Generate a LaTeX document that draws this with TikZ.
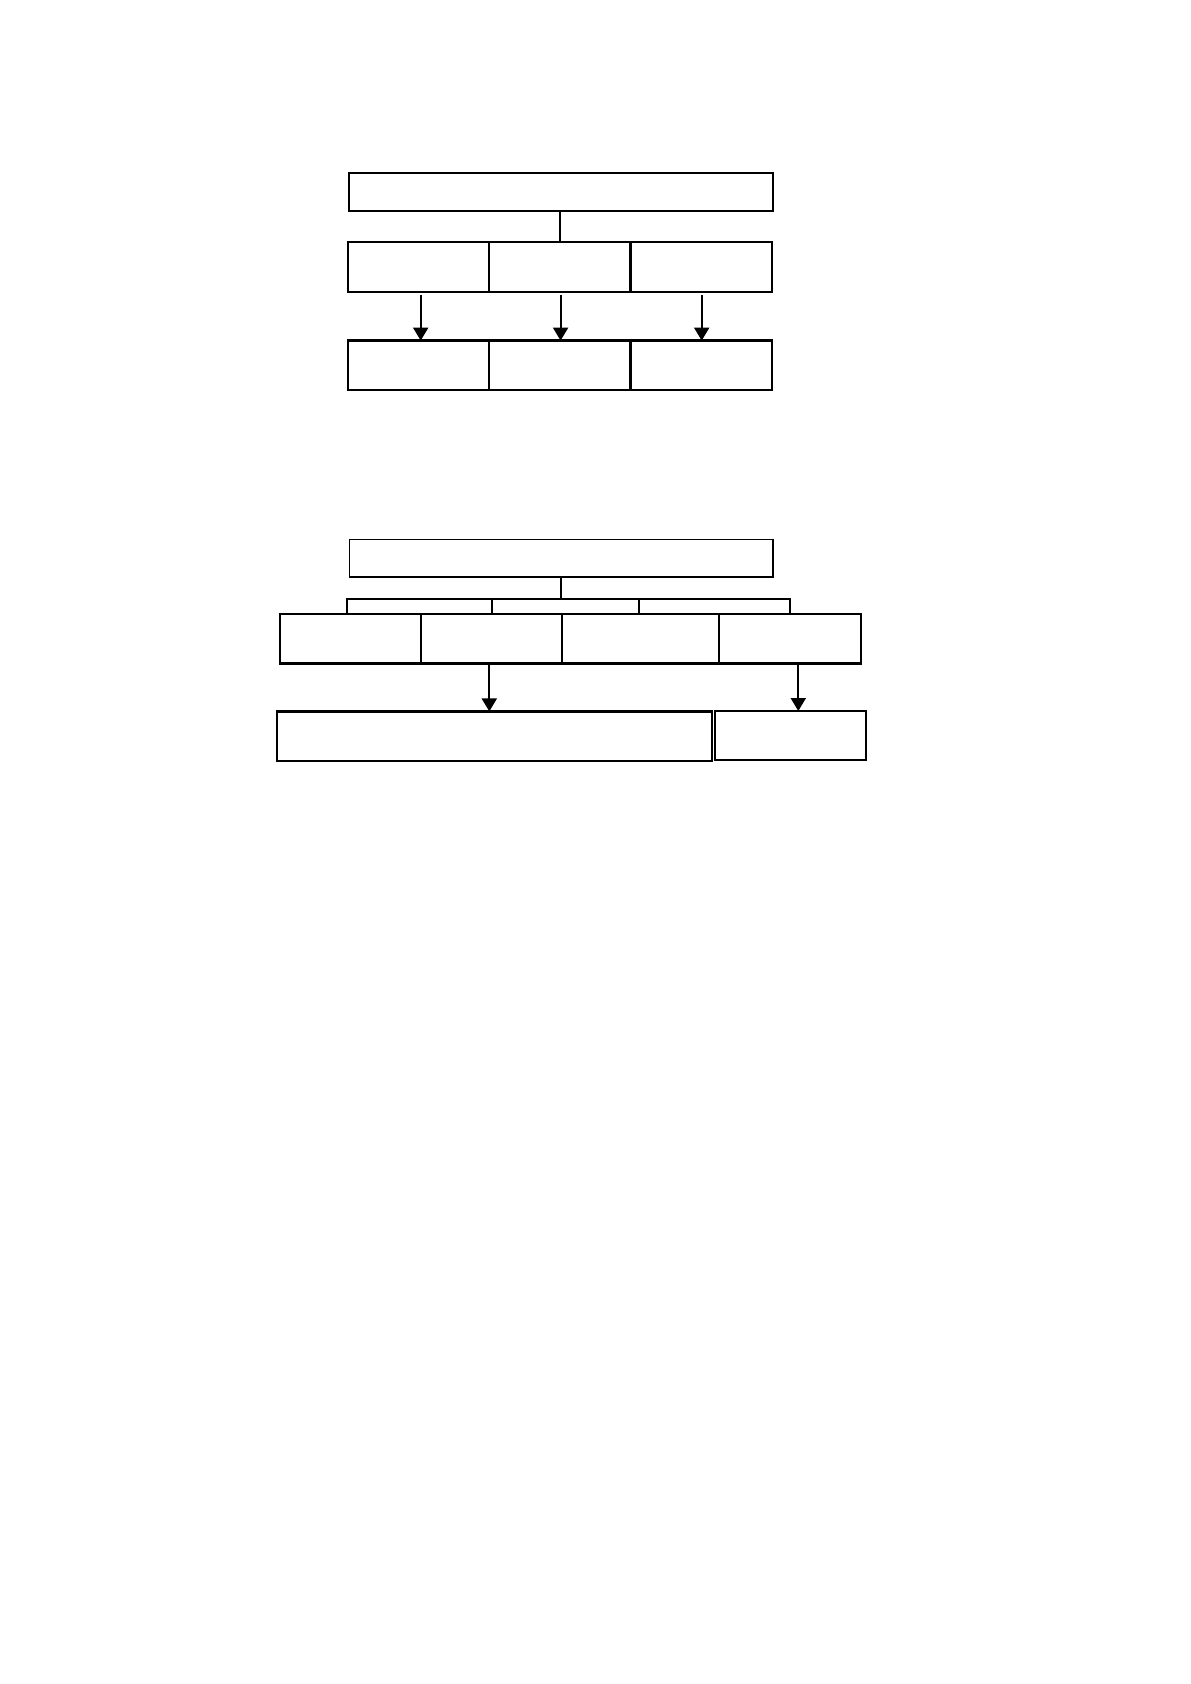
\documentclass[tikz,border=0pt]{standalone}
\usetikzlibrary{arrows.meta}
\begin{document}
\begin{tikzpicture}[x=0.5pt,y=-0.5pt,
  box/.style={draw=black,line width=1.1pt,rectangle,inner sep=0pt,outer sep=0pt,fill=white},
  thin/.style={draw=black,line width=0.8pt,rectangle,inner sep=0pt,outer sep=0pt,fill=white},
  conn/.style={draw=black,line width=1pt},
  arr/.style={draw=black,line width=1pt,-{Triangle[width=7.5pt,length=6.5pt]}}]
\useasboundingbox (0,0) rectangle (1190,1684);
% ---------- top diagram ----------
\node[thin,minimum width=212pt,minimum height=19pt] (t0) at (561,192) {};
\node[box,minimum width=70.7pt,minimum height=24.8pt] (t1) at (418.7,267.2) {};
\node[box,minimum width=70.7pt,minimum height=24.8pt] (t2) at (560,267.2) {};
\node[box,minimum width=70.7pt,minimum height=24.8pt] (t3) at (701.1,267.2) {};
\node[box,minimum width=70.7pt,minimum height=24.8pt] (u1) at (418.7,365.4) {};
\node[box,minimum width=70.7pt,minimum height=24.8pt] (u2) at (560,365.4) {};
\node[box,minimum width=70.7pt,minimum height=24.8pt] (u3) at (701.1,365.4) {};
\draw[conn] (t0.south -| t2.north) -- (t2.north);
\draw[arr] ([xshift=1pt,yshift=-1.5pt]t1.south) -- ([xshift=1pt]u1.north);
\draw[arr] ([xshift=0.3pt,yshift=-1.5pt]t2.south) -- ([xshift=0.3pt]u2.north);
\draw[arr] ([xshift=0.3pt,yshift=-1.5pt]t3.south) -- ([xshift=0.3pt]u3.north);
% ---------- bottom diagram ----------
\node[thin,minimum width=211.7pt,minimum height=18.8pt] (b0) at (561.2,558.2) {};
\node[box,minimum width=70.4pt,minimum height=24.6pt] (b1) at (350.3,638.9) {};
\node[box,minimum width=70.6pt,minimum height=24.6pt] (b2) at (491.3,638.9) {};
\node[box,minimum width=78.7pt,minimum height=24.6pt] (b3) at (640.6,638.9) {};
\node[box,minimum width=71pt,minimum height=24.6pt] (b4) at (790.3,638.9) {};
\node[box,minimum width=217.8pt,minimum height=24.8pt] (c1) at (494.5,736.2) {};
\node[thin,minimum width=75.6pt,minimum height=24.5pt] (c2) at (790.4,735.5) {};
\coordinate (bar) at (561,598.5);
\draw[conn] (b0.south) -- (b0.south |- bar);
\draw[conn] ([xshift=-1.8pt]b1.north) -- ([xshift=-1.8pt]b1.north |- bar) -- ([xshift=-0.3pt]b4.north |- bar) -- ([xshift=-0.3pt]b4.north);
\draw[conn] ([xshift=0.5pt]b2.north) -- ([xshift=0.5pt]b2.north |- bar);
\draw[conn] ([xshift=-0.7pt]b3.north) -- ([xshift=-0.7pt]b3.north |- bar);
\draw[arr] ([xshift=-1pt]b2.south) -- ([xshift=-1pt]b2.south |- c1.north);
\draw[arr] ([xshift=4pt]b4.south) -- ([xshift=4pt]b4.south |- c2.north);
\end{tikzpicture}
\end{document}
